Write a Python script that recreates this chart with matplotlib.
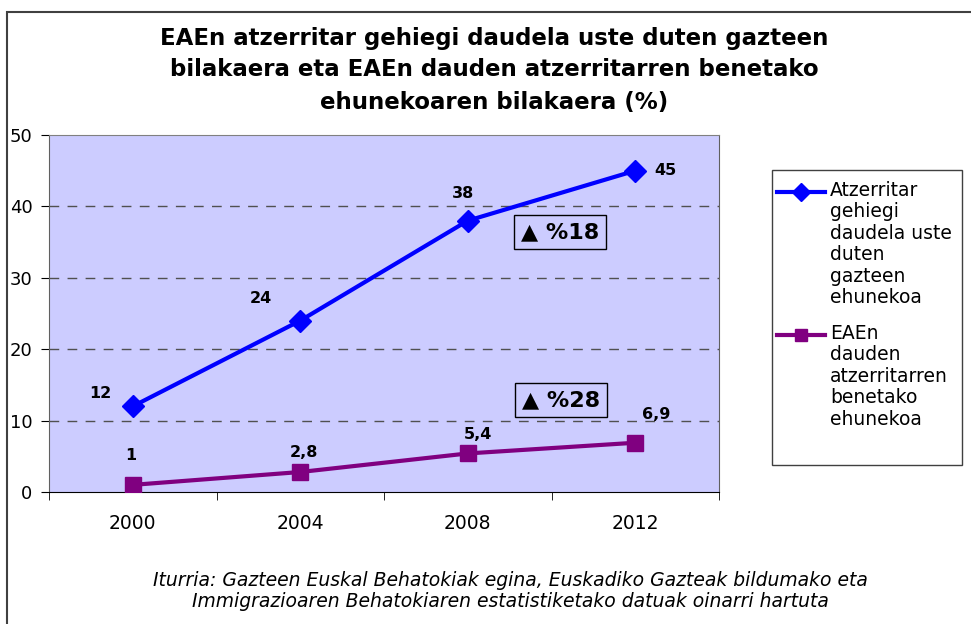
import matplotlib.pyplot as plt
from matplotlib.lines import Line2D
from matplotlib.patches import Rectangle
import numpy as np

years = ['2000', '2004', '2008', '2012']
gazte = [12, 24, 38, 45]
atzer = [1, 2.8, 5.4, 6.9]
gazte_lab = ['12', '24', '38', '45']
atzer_lab = ['1', '2,8', '5,4', '6,9']
gazte_name = 'Atzerritar\ngehiegi\ndaudela uste\nduten\ngazteen\nehunekoa'
atzer_name = 'EAEn\ndauden\natzerritarren\nbenetako\nehunekoa'

W, H = 971, 624
fig = plt.figure(figsize=(W/100., H/100.), dpi=100)
fig.patch.set_facecolor('white')

# outer frame of the chart object
fig.add_artist(Rectangle((7./W, -0.1), 1.2, 1.1 - 12./H, transform=fig.transFigure,
                         fill=False, edgecolor='#404040', lw=1.5))

ax = fig.add_axes([49./W, 1 - 492./H, 670./W, 357./H])
ax.set_facecolor('#ccccff')

x = np.arange(len(years))
ax.plot(x, gazte, color='#0000ff', lw=3, marker='D', ms=11, zorder=3)
ax.plot(x, atzer, color='#800080', lw=3, marker='s', ms=11, zorder=3)

off1 = [(-32, 13), (-39, 22), (-5, 27), (30, 0)]
off2 = [(-2, 29), (4, 20), (10, 19), (21, 28)]
for i in range(4):
    ax.annotate(gazte_lab[i], (x[i], gazte[i]), xytext=(off1[i][0]*0.72, off1[i][1]*0.72),
                textcoords='offset points', ha='center', va='center',
                fontsize=11.5, fontweight='bold')
    ax.annotate(atzer_lab[i], (x[i], atzer[i]), xytext=(off2[i][0]*0.72, off2[i][1]*0.72),
                textcoords='offset points', ha='center', va='center',
                fontsize=11.5, fontweight='bold')

box = dict(boxstyle='square,pad=0.3', fc='none', ec='black', lw=1)
fig.text(560./W, 1 - 232./H, u'\u25B2 %18', fontsize=16, fontweight='bold',
         ha='center', va='center', bbox=box)
fig.text(561./W, 1 - 400./H, u'\u25B2 %28', fontsize=16, fontweight='bold',
         ha='center', va='center', bbox=box)

ax.set_xlim(-0.5, 3.5)
ax.set_ylim(0, 50)
ax.set_yticks([0, 10, 20, 30, 40, 50])
ax.set_xticks(x)
ax.set_xticklabels(years)
ax.set_xticks(np.arange(-0.5, 4, 1), minor=True)
ax.tick_params(axis='x', which='major', length=0, pad=16, labelsize=13.5)
ax.tick_params(axis='x', which='minor', length=6, color='black')
ax.tick_params(axis='y', length=6, pad=6, labelsize=13)

for v in [10, 20, 30, 40]:
    ax.axhline(v, color='#505050', lw=1, dashes=(7, 6), zorder=1)

ax.spines['left'].set_color('#606060')
ax.spines['bottom'].set_color('black')
ax.spines['top'].set_color('#808080')
ax.spines['right'].set_color('#606060')

# title
fig.text(494./W, 1 - 70./H,
         'EAEn atzerritar gehiegi daudela uste duten gazteen\n'
         'bilakaera eta EAEn dauden atzerritarren benetako\n'
         'ehunekoaren bilakaera (%)',
         ha='center', va='center', fontsize=16.5, fontweight='bold', linespacing=1.5)

# legend
fig.add_artist(Rectangle((772./W, 1 - 465./H), 190./W, 295./H, transform=fig.transFigure,
                         fill=True, fc='white', edgecolor='#404040', lw=1))
fig.add_artist(Line2D([777./W, 825./W], [1 - 192./H, 1 - 192./H], color='#0000ff', lw=3))
fig.add_artist(Line2D([801./W], [1 - 192./H], color='#0000ff', marker='D', ms=9, lw=0))
fig.add_artist(Line2D([777./W, 825./W], [1 - 335./H, 1 - 335./H], color='#800080', lw=3))
fig.add_artist(Line2D([801./W], [1 - 335./H], color='#800080', marker='s', ms=9, lw=0))
fig.text(830./W, 1 - 181./H, gazte_name, ha='left', va='top', fontsize=13.5, linespacing=1.16)
fig.text(830./W, 1 - 324./H, atzer_name, ha='left', va='top', fontsize=13.5, linespacing=1.16)

# source
fig.text(510./W, 1 - 591./H,
         'Iturria: Gazteen Euskal Behatokiak egina, Euskadiko Gazteak bildumako eta\n'
         'Immigrazioaren Behatokiaren estatistiketako datuak oinarri hartuta',
         ha='center', va='center', fontsize=13.5, style='italic', linespacing=1.15)

fig.savefig('out.png', dpi=100)
